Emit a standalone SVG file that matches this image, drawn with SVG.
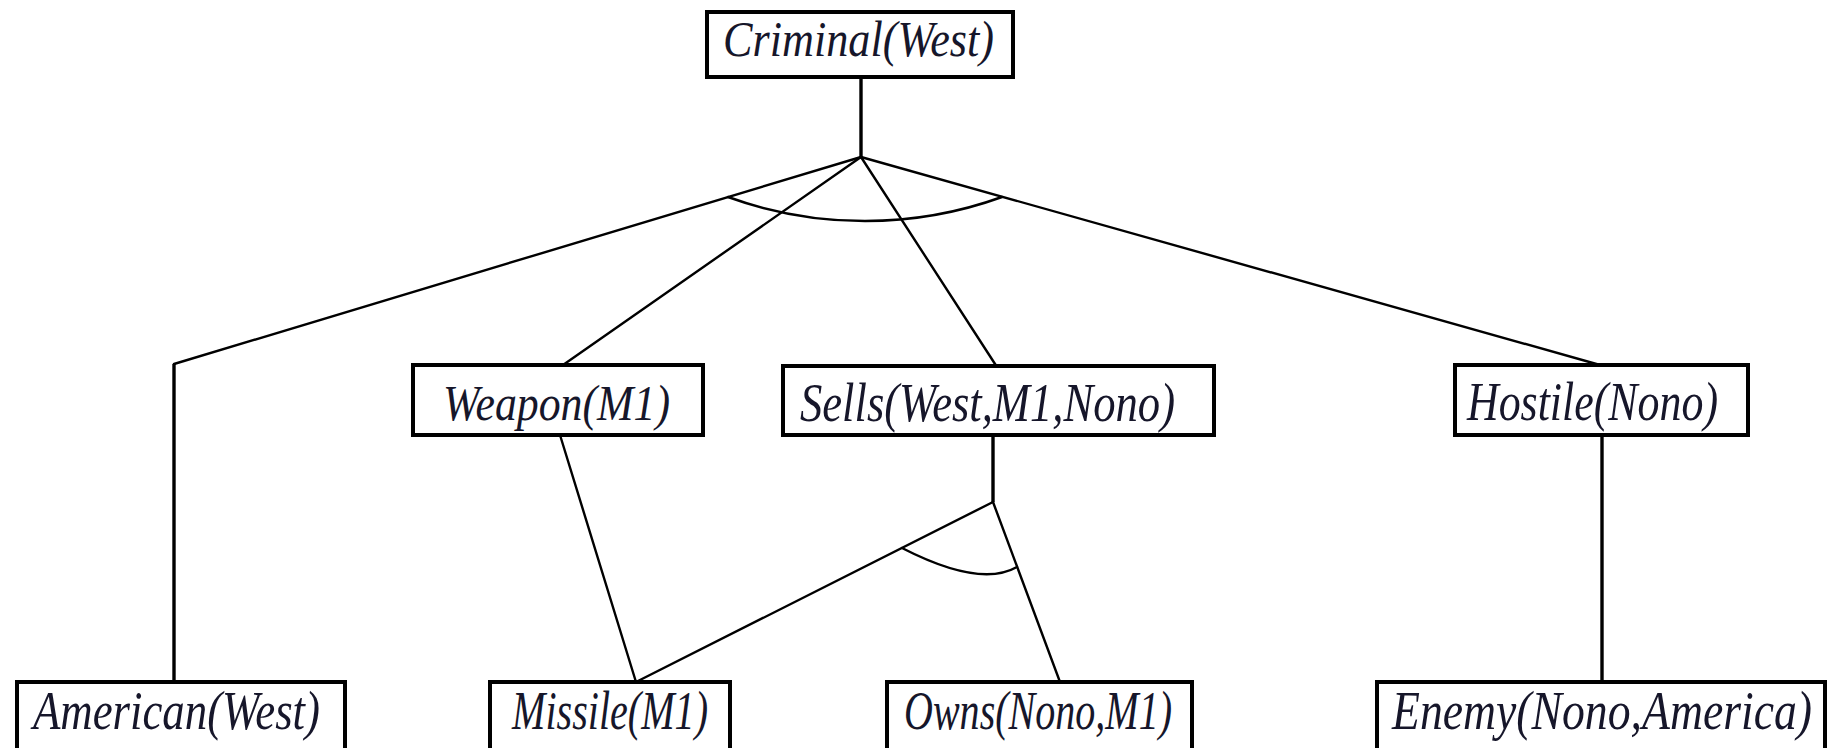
<svg xmlns="http://www.w3.org/2000/svg" width="1837" height="748" viewBox="0 0 1837 748">
  <style>
    .box { fill: #ffffff; stroke: #000000; stroke-width: 4; }
    .lbl { font-family: "Liberation Serif", "Times New Roman", serif; font-style: italic; font-size: 50px; fill: #16162a; }
    .tall { font-size: 54px; }
    .edge { fill: none; stroke: #000000; stroke-width: 2.4; stroke-linecap: round; }
    .stem { fill: none; stroke: #000000; stroke-width: 3.4; }
  </style>
  <rect width="1837" height="748" fill="#ffffff"/>

  <!-- AND/OR proof tree connectors -->
  <g id="connectors">
    <line class="stem" x1="861" y1="77" x2="861" y2="157"/>
    <line class="edge" x1="861" y1="157" x2="174" y2="364"/>
    <line class="stem" x1="174" y1="364" x2="174" y2="682"/>
    <line class="edge" x1="861" y1="157" x2="563" y2="365"/>
    <line class="edge" x1="861" y1="157" x2="997" y2="367"/>
    <line class="edge" x1="861" y1="157" x2="1600" y2="365"/>
    <path class="edge" d="M728,197 A403,403 0 0 0 1002,197"/>

    <line class="edge" x1="560" y1="435" x2="636" y2="682"/>

    <line class="stem" x1="993" y1="435" x2="993" y2="502"/>
    <line class="edge" x1="993" y1="502" x2="636" y2="682"/>
    <line class="edge" x1="993" y1="502" x2="1060" y2="682"/>
    <path class="edge" d="M902,548 Q980,588 1017,567"/>

    <line class="stem" x1="1602" y1="435" x2="1602" y2="682"/>
  </g>

  <g id="criminal">
    <rect class="box" x="707" y="12" width="306" height="65"/>
    <text class="lbl" x="723" y="56" textLength="271" lengthAdjust="spacingAndGlyphs">Criminal(West)</text>
  </g>

  <g id="weapon">
    <rect class="box" x="413" y="365" width="290" height="70"/>
    <text class="lbl" x="443" y="420" textLength="227" lengthAdjust="spacingAndGlyphs">Weapon(M1)</text>
  </g>

  <g id="sells">
    <rect class="box" x="783" y="366" width="431" height="69"/>
    <text class="lbl tall" x="800" y="421" textLength="375" lengthAdjust="spacingAndGlyphs">Sells(West,M1,Nono)</text>
  </g>

  <g id="hostile">
    <rect class="box" x="1455" y="365" width="293" height="70"/>
    <text class="lbl tall" x="1467" y="420" textLength="251" lengthAdjust="spacingAndGlyphs">Hostile(Nono)</text>
  </g>

  <g id="american">
    <rect class="box" x="17" y="682" width="328" height="90"/>
    <text class="lbl tall" x="33" y="729" textLength="287" lengthAdjust="spacingAndGlyphs">American(West)</text>
  </g>

  <g id="missile">
    <rect class="box" x="490" y="682" width="240" height="90"/>
    <text class="lbl tall" x="512" y="729" textLength="196" lengthAdjust="spacingAndGlyphs">Missile(M1)</text>
  </g>

  <g id="owns">
    <rect class="box" x="887" y="682" width="305" height="90"/>
    <text class="lbl tall" x="904" y="729" textLength="268" lengthAdjust="spacingAndGlyphs">Owns(Nono,M1)</text>
  </g>

  <g id="enemy">
    <rect class="box" x="1377" y="682" width="448" height="90"/>
    <text class="lbl tall" x="1392" y="729" textLength="420" lengthAdjust="spacingAndGlyphs">Enemy(Nono,America)</text>
  </g>
</svg>
